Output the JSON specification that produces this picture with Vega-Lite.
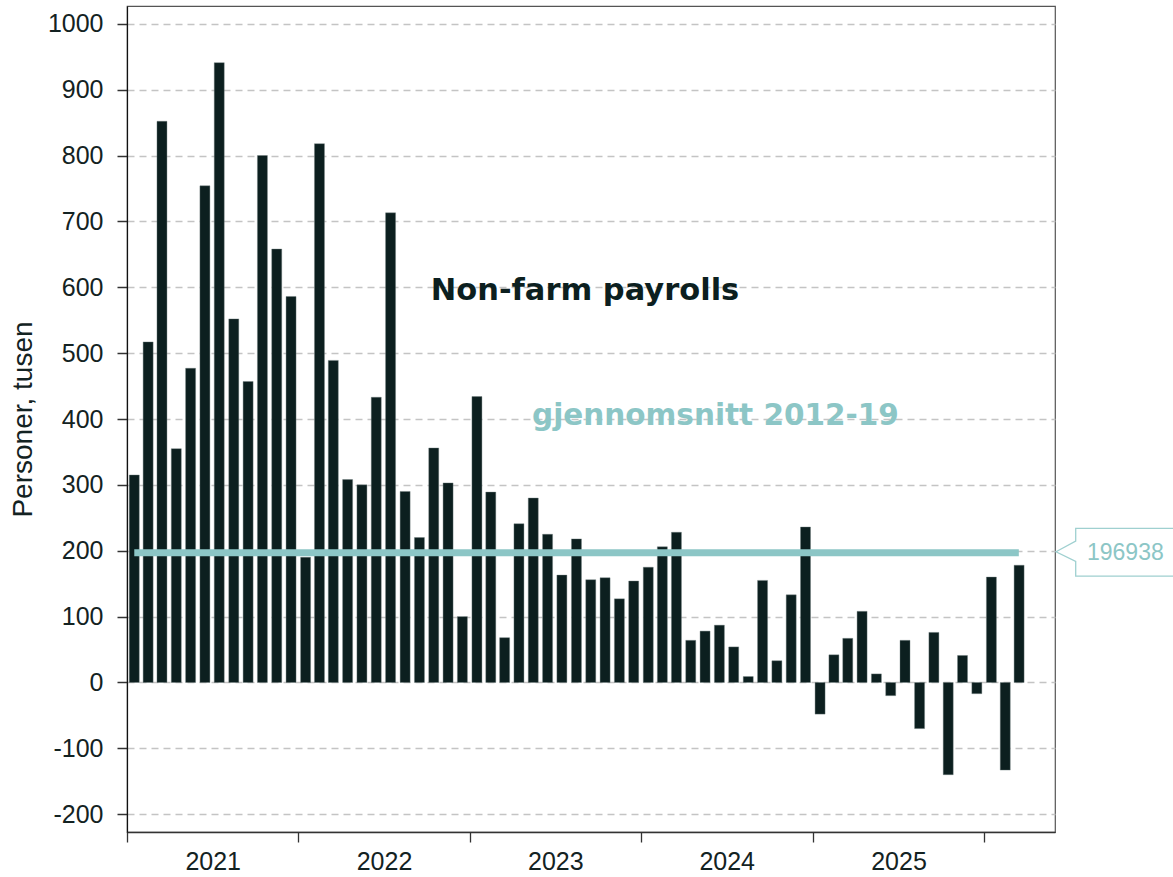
{
  "$schema": "https://vega.github.io/schema/vega-lite/v6.json",
  "width": 928,
  "height": 826,
  "autosize": {"type": "none"},
  "padding": {"left": 127, "top": 6, "right": 118, "bottom": 45},
  "background": "white",
  "config": {
    "view": {"stroke": "#555555", "strokeWidth": 1.2},
    "font": "Liberation Sans"
  },
  "datasets": {
    "payrolls": [
      {"month": "2021-01-01", "value": 315}, {"month": "2021-02-01", "value": 517}, {"month": "2021-03-01", "value": 852},
      {"month": "2021-04-01", "value": 355}, {"month": "2021-05-01", "value": 477}, {"month": "2021-06-01", "value": 754},
      {"month": "2021-07-01", "value": 941}, {"month": "2021-08-01", "value": 552}, {"month": "2021-09-01", "value": 457},
      {"month": "2021-10-01", "value": 800}, {"month": "2021-11-01", "value": 658}, {"month": "2021-12-01", "value": 586},
      {"month": "2022-01-01", "value": 190}, {"month": "2022-02-01", "value": 818}, {"month": "2022-03-01", "value": 489},
      {"month": "2022-04-01", "value": 308}, {"month": "2022-05-01", "value": 300}, {"month": "2022-06-01", "value": 433},
      {"month": "2022-07-01", "value": 713}, {"month": "2022-08-01", "value": 290}, {"month": "2022-09-01", "value": 220},
      {"month": "2022-10-01", "value": 356}, {"month": "2022-11-01", "value": 303}, {"month": "2022-12-01", "value": 100},
      {"month": "2023-01-01", "value": 434}, {"month": "2023-02-01", "value": 289}, {"month": "2023-03-01", "value": 68},
      {"month": "2023-04-01", "value": 241}, {"month": "2023-05-01", "value": 280}, {"month": "2023-06-01", "value": 225},
      {"month": "2023-07-01", "value": 163}, {"month": "2023-08-01", "value": 218}, {"month": "2023-09-01", "value": 156},
      {"month": "2023-10-01", "value": 159}, {"month": "2023-11-01", "value": 127}, {"month": "2023-12-01", "value": 154},
      {"month": "2024-01-01", "value": 175}, {"month": "2024-02-01", "value": 206}, {"month": "2024-03-01", "value": 228},
      {"month": "2024-04-01", "value": 64}, {"month": "2024-05-01", "value": 78}, {"month": "2024-06-01", "value": 87},
      {"month": "2024-07-01", "value": 54}, {"month": "2024-08-01", "value": 9}, {"month": "2024-09-01", "value": 155},
      {"month": "2024-10-01", "value": 33}, {"month": "2024-11-01", "value": 133}, {"month": "2024-12-01", "value": 236},
      {"month": "2025-01-01", "value": -48}, {"month": "2025-02-01", "value": 42}, {"month": "2025-03-01", "value": 67},
      {"month": "2025-04-01", "value": 108}, {"month": "2025-05-01", "value": 13}, {"month": "2025-06-01", "value": -20},
      {"month": "2025-07-01", "value": 64}, {"month": "2025-08-01", "value": -70}, {"month": "2025-09-01", "value": 76},
      {"month": "2025-10-01", "value": -140}, {"month": "2025-11-01", "value": 41}, {"month": "2025-12-01", "value": -17},
      {"month": "2026-01-01", "value": 160}, {"month": "2026-02-01", "value": -133}, {"month": "2026-03-01", "value": 178}
    ],
    "average": [
      {"start": "2021-01-01", "end": "2026-03-01", "value": 196.938, "label": "196938"}
    ]
  },
  "layer": [
    {
      "data": {"name": "payrolls"},
      "mark": {"type": "bar", "width": 10, "color": "#0c1f1f", "stroke": "#6f7d7d", "strokeWidth": 0.4},
      "encoding": {
        "x": {
          "field": "month", "timeUnit": "utcyearmonth", "type": "temporal", "bandPosition": 0.5,
          "scale": {"type": "utc", "domain": [{"year": 2021, "month": 1, "date": 1, "utc": true}, {"year": 2026, "month": 6, "date": 1, "utc": true}]},
          "axis": {
            "title": null,
            "values": [
              {"year": 2021, "month": 1, "date": 1, "utc": true},
              {"year": 2022, "month": 1, "date": 1, "utc": true},
              {"year": 2023, "month": 1, "date": 1, "utc": true},
              {"year": 2024, "month": 1, "date": 1, "utc": true},
              {"year": 2025, "month": 1, "date": 1, "utc": true},
              {"year": 2026, "month": 1, "date": 1, "utc": true}
            ],
            "labelExpr": "utcyear(datum.value) < 2026 ? utcFormat(datum.value, '%Y') : ''",
            "labelOffset": 85.7,
            "labelFlush": false,
            "labelOverlap": false,
            "grid": false,
            "tickSize": 10,
            "tickWidth": 1.3,
            "tickColor": "#333333",
            "domainColor": "#333333",
            "domainWidth": 1.3,
            "labelFontSize": 25,
            "labelColor": "#132222",
            "labelPadding": 7
          }
        },
        "y": {
          "field": "value", "type": "quantitative",
          "scale": {"domain": [-227, 1027], "nice": false, "zero": false},
          "axis": {
            "title": "Personer, tusen",
            "titleFontSize": 28,
            "titleFontWeight": "normal",
            "titleColor": "#132222",
            "titlePadding": 10,
            "values": [-200, -100, 0, 100, 200, 300, 400, 500, 600, 700, 800, 900, 1000],
            "labelExpr": "'' + datum.value",
            "grid": true,
            "gridDash": [7, 5],
            "gridColor": "#c4c4c4",
            "gridWidth": 1.5,
            "tickSize": 10,
            "tickWidth": 1.5,
            "tickColor": "#333333",
            "domainColor": "#111111",
            "domainWidth": 1.2,
            "labelFontSize": 25,
            "labelColor": "#132222",
            "labelPadding": 14
          }
        }
      }
    },
    {
      "data": {"name": "average"},
      "mark": {"type": "rule", "color": "#8cc6c6", "strokeWidth": 7, "x2Offset": 7},
      "encoding": {
        "x": {"field": "start", "timeUnit": "utcyearmonth", "type": "temporal", "bandPosition": 0.5},
        "x2": {"field": "end", "timeUnit": "utcyearmonth"},
        "y": {"field": "value", "type": "quantitative"}
      }
    },
    {
      "data": {"name": "average"},
      "mark": {
        "type": "point", "filled": true, "fill": "white", "stroke": "#9fd0d0", "strokeWidth": 1.3, "opacity": 1, "size": 10000,
        "shape": "M0.02,-0.02L0.414,-0.232L0.414,-0.486L2.6,-0.486L2.6,0.468L0.414,0.468L0.414,0.174Z"
      },
      "encoding": {
        "x": {"datum": {"year": 2026, "month": 6, "date": 1, "utc": true}, "type": "temporal"},
        "y": {"field": "value", "type": "quantitative"}
      }
    },
    {
      "data": {"name": "average"},
      "mark": {"type": "text", "align": "left", "baseline": "middle", "dx": 32, "fontSize": 23, "color": "#8cc6c6", "font": "Liberation Sans"},
      "encoding": {
        "x": {"datum": {"year": 2026, "month": 6, "date": 1, "utc": true}, "type": "temporal"},
        "y": {"field": "value", "type": "quantitative"},
        "text": {"field": "label"}
      }
    },
    {
      "data": {"values": [{}]},
      "mark": {"type": "text", "text": "Non-farm payrolls", "align": "left", "baseline": "alphabetic", "fontSize": 30.5, "fontWeight": "bold", "font": "DejaVu Sans", "color": "#0c1f1f"},
      "encoding": {
        "x": {"datum": {"year": 2022, "month": 10, "date": 10, "utc": true}, "type": "temporal"},
        "y": {"datum": 580, "type": "quantitative"}
      }
    },
    {
      "data": {"values": [{}]},
      "mark": {"type": "text", "text": "gjennomsnitt 2012-19", "align": "left", "baseline": "alphabetic", "fontSize": 29.5, "fontWeight": "bold", "font": "DejaVu Sans", "color": "#8cc6c6"},
      "encoding": {
        "x": {"datum": {"year": 2023, "month": 5, "date": 14, "utc": true}, "type": "temporal"},
        "y": {"datum": 391, "type": "quantitative"}
      }
    }
  ]
}
